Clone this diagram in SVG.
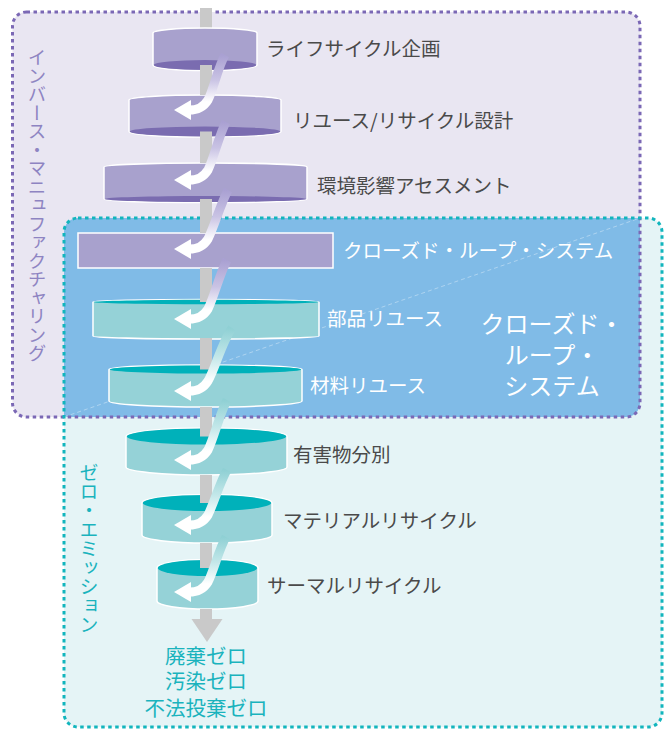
<svg xmlns="http://www.w3.org/2000/svg" width="670" height="731" viewBox="0 0 670 731">
<style>
.lbl{font-family:"Noto Sans CJK JP","Noto Sans",sans-serif;font-size:19.5px;fill:#4a4a4a}
.wlbl{font-family:"Noto Sans CJK JP","Noto Sans",sans-serif;font-size:19.5px;fill:#ffffff}
.big{font-family:"Noto Sans CJK JP","Noto Sans",sans-serif;font-size:24px;fill:#ffffff;text-anchor:middle}
.vt{font-family:"Noto Sans CJK JP","Noto Sans",sans-serif;writing-mode:vertical-rl}
.zero{font-family:"Noto Sans CJK JP","Noto Sans",sans-serif;font-size:20.5px;fill:#1ab3bd;text-anchor:middle}
.pbody{fill:#a8a1cd;stroke:#ffffff;stroke-width:1.5}
.pface{fill:#7a6cb0}
.tbody{fill:#95d2d7;stroke:#ffffff;stroke-width:1.5}
.tface{fill:#00b1ba}
.bar{fill:#c9c9c9}
.shaftP{fill:none;stroke:url(#gP);stroke-width:9}
.shaftT{fill:none;stroke:url(#gT);stroke-width:9}
.head{fill:#ffffff}
</style>
<defs>
<linearGradient id="gP" x1="0" y1="0" x2="0" y2="1">
<stop offset="0" stop-color="#a9a0d2"/>
<stop offset="0.45" stop-color="#c9c3e4"/>
<stop offset="0.85" stop-color="#ffffff"/>
</linearGradient>
<linearGradient id="gT" x1="0" y1="0" x2="0" y2="1">
<stop offset="0" stop-color="#8fd0d4"/>
<stop offset="0.45" stop-color="#c2e7e9"/>
<stop offset="0.85" stop-color="#ffffff"/>
</linearGradient>
<clipPath id="clipP"><rect x="12.5" y="12" width="627.5" height="405" rx="14"/></clipPath>
</defs>

<g id="background">
<rect x="12.5" y="12" width="627.5" height="405" rx="14" fill="#e9e6f2"/>
<rect x="64" y="218" width="598" height="509" rx="14" fill="#e5f4f6"/>
<rect x="64" y="218" width="598" height="509" rx="14" fill="#80bbe7" clip-path="url(#clipP)"/>
<line x1="64" y1="417" x2="640" y2="218" stroke="#ffffff" stroke-opacity="0.45" stroke-width="0.8" stroke-dasharray="4 3"/>
</g>

<g id="inverse-manufacturing">
<rect x="12.5" y="12" width="627.5" height="405" rx="14" fill="none" stroke="#7b68b5" stroke-width="3" stroke-dasharray="3.5 3.5"/>
<text class="vt" x="37" y="48" font-size="18.5" fill="#8e84c2">インバース・マニュファクチャリング</text>
</g>

<g id="zero-emission">
<rect x="64" y="218" width="598" height="509" rx="14" fill="none" stroke="#12b5bd" stroke-width="3" stroke-dasharray="3.5 3.5"/>
<text class="vt" x="89" y="463" font-size="19" fill="#1ab3bd">ゼロ・エミッション</text>
</g>

<g id="closed-loop-label">
<text class="big"><tspan x="552" y="333">クローズド・</tspan><tspan x="552" y="364">ループ・</tspan><tspan x="552" y="395">システム</tspan></text>
</g>

<g id="axis">
<rect class="bar" x="200" y="8" width="12" height="611"/>
</g>

<g id="n1">
<path class="pbody" d="M153 33 A52 5 0 0 1 257 33 L257 65 A52 5.5 0 0 1 153 65 Z"/>
<ellipse class="pface" cx="205" cy="65" rx="51.2" ry="5"/>
<text class="lbl" x="266" y="56">ライフサイクル企画</text>
</g>
<g id="n2">
<path class="pbody" d="M129 100 A76 5 0 0 1 281 100 L281 131.5 A76 5.5 0 0 1 129 131.5 Z"/>
<ellipse class="pface" cx="205" cy="131.5" rx="75.2" ry="5"/>
<text class="lbl" x="293" y="128">リユース/リサイクル設計</text>
</g>
<g id="n3">
<path class="pbody" d="M104 167 A101.5 4 0 0 1 307 167 L307 199 A101.5 3.5 0 0 1 104 199 Z"/>
<ellipse class="pface" cx="205.5" cy="199" rx="100.7" ry="3"/>
<text class="lbl" x="317" y="193">環境影響アセスメント</text>
</g>
<g id="n4">
<rect class="pbody" x="78" y="233" width="255" height="35"/>
<text class="wlbl" x="343" y="258" font-size="19">クローズド・ループ・システム</text>
</g>
<g id="n5">
<path class="tbody" d="M93 302 A113 2.5 0 0 1 319 302 L319 336 A113 3 0 0 1 93 336 Z"/>
<ellipse class="tface" cx="206" cy="302" rx="112.2" ry="2.2"/>
<text class="wlbl" x="327" y="326">部品リユース</text>
</g>
<g id="n6">
<path class="tbody" d="M109 369.5 A96.5 4.5 0 0 1 302 369.5 L302 401 A96.5 6 0 0 1 109 401 Z"/>
<ellipse class="tface" cx="205.5" cy="369.5" rx="95.7" ry="4"/>
<text class="wlbl" x="310" y="393">材料リユース</text>
</g>
<g id="n7">
<path class="tbody" d="M126 436.5 A80.5 8.5 0 0 1 287 436.5 L287 467 A80.5 8 0 0 1 126 467 Z"/>
<ellipse class="tface" cx="206.5" cy="436.5" rx="79.7" ry="8"/>
<text class="lbl" x="293" y="462">有害物分別</text>
</g>
<g id="n8">
<path class="tbody" d="M142 503 A65 8.5 0 0 1 272 503 L272 535 A65 8 0 0 1 142 535 Z"/>
<ellipse class="tface" cx="207" cy="503" rx="64.2" ry="8"/>
<text class="lbl" x="283" y="528">マテリアルリサイクル</text>
</g>
<g id="n9">
<path class="tbody" d="M157 568 A50.5 8.5 0 0 1 258 568 L258 601 A50.5 8 0 0 1 157 601 Z"/>
<ellipse class="tface" cx="207.5" cy="568" rx="49.7" ry="8"/>
<text class="lbl" x="267" y="593">サーマルリサイクル</text>
</g>

<g id="connectors">
<rect class="bar" x="200" y="65" width="12" height="30"/>
<rect class="bar" x="200" y="131.5" width="12" height="31.5"/>
<rect class="bar" x="200" y="199" width="12" height="34"/>
<rect class="bar" x="200" y="268" width="12" height="34"/>
<rect class="bar" x="200" y="338" width="12" height="31.5"/>
<rect class="bar" x="200" y="407" width="12" height="29.5"/>
<rect class="bar" x="200" y="475" width="12" height="28"/>
<rect class="bar" x="200" y="543" width="12" height="25"/>
<rect class="bar" x="200" y="609" width="12" height="10"/>
<polygon class="bar" points="191.5,619 222.5,619 207,642"/>

<path class="shaftP" d="M225 55 C218 67 214 88 208 100 C203 108 197 110 189 110"/>
<polygon class="head" points="174,110 191,100 191,120"/>
<path class="shaftP" d="M226 122 C219 135 214 158 208 170 C203 178 197 180 189 180"/>
<polygon class="head" points="174,180 191,170 191,190"/>
<path class="shaftP" d="M228 190 C221 203 214 227 208 239 C203 247 197 249 189 249"/>
<polygon class="head" points="174,249 191,239 191,259"/>
<path class="shaftP" d="M227 260 C220 273 214 297 208 309 C203 317 197 319 189 319"/>
<polygon class="head" points="174,319 191,309 191,329"/>
<path class="shaftT" d="M232 328 C222 342 215 369 208 381 C203 389 197 391 189 391"/>
<polygon class="head" points="174,391 191,381 191,401"/>
<path class="shaftT" d="M227 400 C220 413 214 438 208 450 C203 458 197 460 189 460"/>
<polygon class="head" points="174,460 191,450 191,470"/>
<path class="shaftT" d="M227 470 C220 482 214 503 208 515 C203 523 197 525 189 525"/>
<polygon class="head" points="174,525 191,515 191,535"/>
<path class="shaftT" d="M226 537 C219 549 214 570 208 582 C203 590 197 592 189 592"/>
<polygon class="head" points="174,592 191,582 191,602"/>
</g>

<g id="outcomes">
<text class="zero"><tspan x="206" y="664">廃棄ゼロ</tspan><tspan x="206" y="689">汚染ゼロ</tspan><tspan x="206" y="716">不法投棄ゼロ</tspan></text>
</g>
</svg>
